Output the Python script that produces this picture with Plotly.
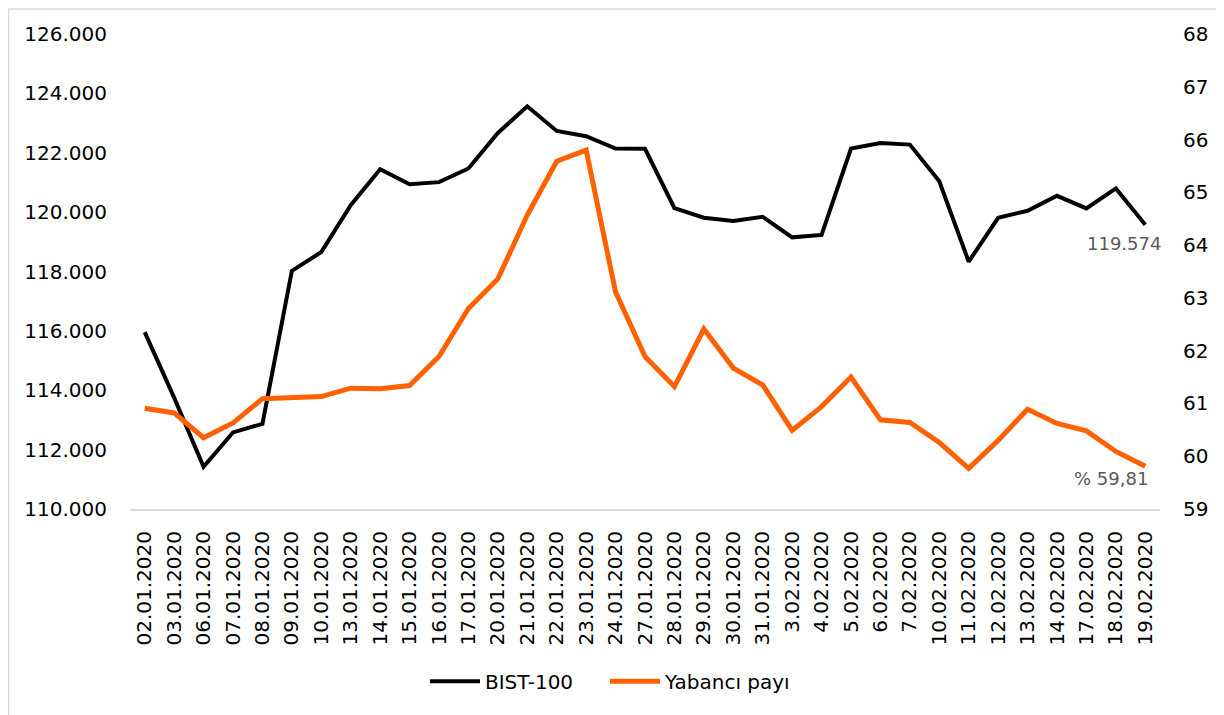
import plotly.graph_objects as go

dates = ["02.01.2020", "03.01.2020", "06.01.2020", "07.01.2020", "08.01.2020",
         "09.01.2020", "10.01.2020", "13.01.2020", "14.01.2020", "15.01.2020",
         "16.01.2020", "17.01.2020", "20.01.2020", "21.01.2020", "22.01.2020",
         "23.01.2020", "24.01.2020", "27.01.2020", "28.01.2020", "29.01.2020",
         "30.01.2020", "31.01.2020", "3.02.2020", "4.02.2020", "5.02.2020",
         "6.02.2020", "7.02.2020", "10.02.2020", "11.02.2020", "12.02.2020",
         "13.02.2020", "14.02.2020", "17.02.2020", "18.02.2020", "19.02.2020"]

bist100 = [115956, 113750, 111420, 112580, 112870,
           118020, 118655, 120235, 121445, 120940,
           121010, 121470, 122665, 123565, 122735,
           122555, 122140, 122135, 120135, 119810,
           119700, 119845, 119150, 119230, 122140,
           122330, 122275, 121040, 118330, 119810,
           120045, 120550, 120125, 120800, 119574]

yabanci = [60.91, 60.82, 60.35, 60.63, 61.09,
           61.12, 61.13, 61.29, 61.28, 61.34,
           61.89, 62.80, 63.36, 64.57, 65.59,
           65.80, 63.11, 61.89, 61.32, 62.41,
           61.67, 61.35, 60.49, 60.94, 61.50,
           60.69, 60.64, 60.26, 59.77, 60.30,
           60.89, 60.62, 60.48, 60.09, 59.81]

left_ticks = [110000, 112000, 114000, 116000, 118000, 120000, 122000, 124000, 126000]
left_labels = ["110.000", "112.000", "114.000", "116.000", "118.000",
               "120.000", "122.000", "124.000", "126.000"]
right_ticks = [59, 60, 61, 62, 63, 64, 65, 66, 67, 68]

FONT = "DejaVu Sans"

fig = go.Figure()
fig.add_trace(go.Scatter(x=dates, y=bist100, name="BIST-100", mode="lines",
                         line=dict(color="#000000", width=4), yaxis="y",
                         legend="legend"))
fig.add_trace(go.Scatter(x=dates, y=yabanci, name="Yabancı payı", mode="lines",
                         line=dict(color="#FF6000", width=5), yaxis="y2",
                         legend="legend2"))

leg_common = dict(orientation="h", y=-0.3624, yanchor="middle", xanchor="left",
                  font=dict(family=FONT, size=20), itemwidth=50,
                  bgcolor="rgba(0,0,0,0)")

fig.update_layout(
    width=1216, height=707,
    margin=dict(l=122, r=64, t=25.5, b=205.5, autoexpand=False),
    paper_bgcolor="white", plot_bgcolor="white",
    font=dict(family=FONT, size=20, color="#000000"),
    showlegend=True,
    legend=dict(x=0.2864, **leg_common),
    legend2=dict(x=0.4612, **leg_common),
    xaxis=dict(type="category", tickangle=-90, showgrid=False, showline=True,
               linecolor="#D9D9D9", linewidth=2, ticks="outside", ticklen=12,
               tickcolor="rgba(0,0,0,0)", range=[-0.5, 34.5],
               tickfont=dict(family=FONT, size=20)),
    yaxis=dict(range=[110000, 126000], tickvals=left_ticks, ticktext=left_labels,
               showgrid=False, zeroline=False, showline=False, ticks="outside",
               ticklen=18, tickcolor="rgba(0,0,0,0)",
               tickfont=dict(family=FONT, size=20)),
    yaxis2=dict(range=[59, 68], tickvals=right_ticks, overlaying="y", side="right",
                showgrid=False, zeroline=False, showline=False, ticks="outside",
                ticklen=18, tickcolor="rgba(0,0,0,0)",
                tickfont=dict(family=FONT, size=20)),
    shapes=[dict(type="rect", xref="paper", yref="paper",
                 x0=-0.118, x1=1.0602, y0=-0.45, y1=1.0525,
                 line=dict(color="#D9D9D9", width=1.5), fillcolor="rgba(0,0,0,0)")],
    annotations=[
        dict(x=dates[-1], y=bist100[-1], xref="x", yref="y", text="119.574",
             showarrow=False, xanchor="center", yanchor="middle", xshift=-21, yshift=-19,
             font=dict(family=FONT, size=18, color="#595959")),
        dict(x=dates[-1], y=yabanci[-1], xref="x", yref="y2", text="% 59,81",
             showarrow=False, xanchor="center", yanchor="middle", xshift=-34.5, yshift=-12.5,
             font=dict(family=FONT, size=18, color="#595959")),
    ],
)

fig.write_html("out.html")
